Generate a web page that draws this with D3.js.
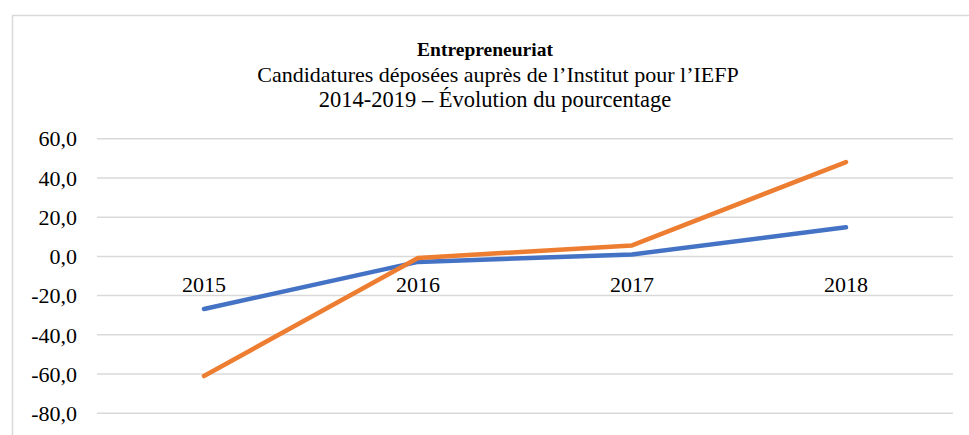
<!DOCTYPE html>
<html><head><meta charset="utf-8">
<script src="https://cdn.jsdelivr.net/npm/d3@7"></script>
<style>body{margin:0;background:#fff}svg{display:block}</style>
</head><body><svg id="c" width="969" height="435"></svg>
<script>
const categories = ["2015","2016","2017","2018"];
const seriesBlue = [-26.8, -2.8, 1.0, 14.8];
const seriesOrange = [-61.0, -0.8, 5.6, 48.1];
const yTicks = [-80,-60,-40,-20,0,20,40,60];
const titleLines = ["Entrepreneuriat","Candidatures déposées auprès de l’Institut pour l’IEFP","2014-2019 – Évolution du pourcentage"];

const svg = d3.select("#c");
const font = "'Liberation Serif','Times New Roman',serif";
svg.append("rect").attr("x",12.5).attr("y",15.5).attr("width",1000).attr("height",500)
  .attr("fill","#fff").attr("stroke","#d9d9d9").attr("stroke-width",1.5);

const x = d3.scaleBand().domain(categories).range([97,953]);
const y = d3.scaleLinear().domain([-80,60]).range([413.3,138.7]);

const g = svg.append("g");
g.selectAll("line.grid").data(yTicks).join("line").attr("class","grid")
  .attr("x1",97).attr("x2",953).attr("y1",d=>y(d)).attr("y2",d=>y(d))
  .attr("stroke","#d9d9d9").attr("stroke-width",1.5);

const fmt = d3.formatLocale({decimal:",",thousands:" ",grouping:[3],currency:["",""],minus:"-"}).format(".1f");
g.selectAll("text.yt").data(yTicks).join("text").attr("class","yt")
  .attr("x",77).attr("y",d=>y(d)).attr("dy","0.35em").attr("text-anchor","end")
  .attr("font-family",font).attr("font-size",22).attr("fill","#000")
  .text(d=>fmt(d));

g.selectAll("text.xt").data(categories).join("text").attr("class","xt")
  .attr("x",d=>x(d)+x.bandwidth()/2).attr("y",y(0)+35.5).attr("text-anchor","middle")
  .attr("font-family",font).attr("font-size",22).attr("fill","#000").text(d=>d);

const line = d3.line().x((d,i)=>x(categories[i])+x.bandwidth()/2).y(d=>y(d));
[[seriesBlue,"#4472C4"],[seriesOrange,"#ED7D31"]].forEach(([s,c])=>{
  g.append("path").datum(s).attr("d",line).attr("fill","none").attr("stroke",c)
   .attr("stroke-width",4.5).attr("stroke-linecap","round").attr("stroke-linejoin","round");
});

const tSizes = [19.5, 22, 22.5];
const tBase = [56, 82, 107];
const tX = [485, 498, 495];
svg.selectAll("text.title").data(titleLines).join("text").attr("class","title")
  .attr("x",(d,i)=>tX[i]).attr("y",(d,i)=>tBase[i]).attr("text-anchor","middle")
  .attr("font-family",font).attr("font-size",(d,i)=>tSizes[i]).attr("fill","#000")
  .attr("font-weight",(d,i)=>i===0?"bold":"normal").text(d=>d);
</script></body></html>
